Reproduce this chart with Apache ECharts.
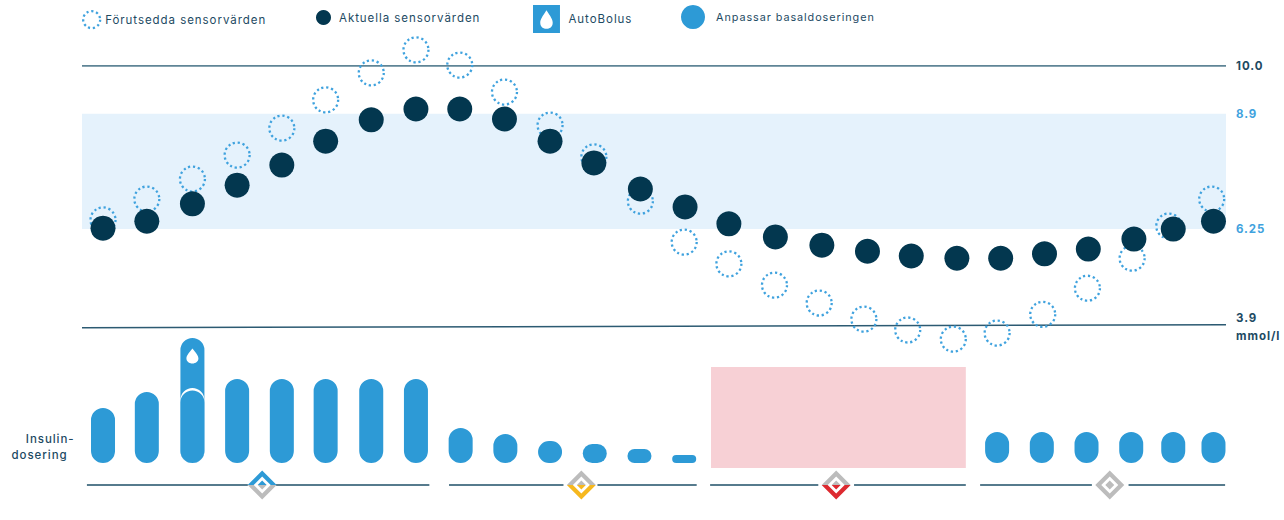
<!DOCTYPE html>
<html><head><meta charset="utf-8">
<style>html,body{margin:0;padding:0;background:#fff}#c{width:1284px;height:520px}#c text{letter-spacing:.95px}</style>
<script src="https://cdn.jsdelivr.net/npm/echarts@6/dist/echarts.min.js"></script>
</head><body><div id="c"></div>
<script>
// sensor readings: time in minutes, glucose in mmol/l
const predictedMinutes=[0,4.9,10,15,20,24.9,30,35,39.9,44.9,50,54.9,60.1,65,70,75.1,80.1,85.1,90,95.1,100,105.1,110.1,115.1,119.2,124];
const predictedValues=[6.46,6.94,7.40,7.95,8.57,9.22,9.84,10.37,10.02,9.40,8.64,7.91,6.89,5.95,5.45,4.96,4.55,4.18,3.93,3.72,3.86,4.29,4.89,5.58,6.32,6.94];
const actualMinutes=[0,4.9,10,15,20,24.9,30,35,39.9,44.9,50,54.9,60.1,65.1,70,75.2,80.4,85.5,90.4,95.5,100.4,105.3,110.2,115.3,119.7,124.2];
const actualValues=[6.27,6.43,6.83,7.26,7.72,8.27,8.76,9.01,9.01,8.78,8.27,7.77,7.17,6.76,6.37,6.07,5.88,5.74,5.63,5.58,5.58,5.68,5.79,6.02,6.25,6.43];
// insulin dosing
const doseMinutes=[0,4.9,10,15,20,24.9,30,35,40,45,50,55,60,65,100,105,110,115,119.7,124.2];
const doseValues=[4.4,5.68,5.8,6.72,6.72,6.72,6.72,6.72,2.8,2.32,1.76,1.52,1.12,0.64,2.48,2.48,2.48,2.48,2.48,2.48];
const bolusMinute=[10];
const bolusTop=[10];
const bolusCap=[6];
const pauseRange=[68,96.5];
const pauseDoseTop=[7.68];
// thresholds
const tickValues=[10,8.9,6.25,4.0];
const tickLabels=['10.0','8.9','6.25','3.9\nmmol/l'];
const highLine=[[-2.35,10],[125.6,10]];
const lowLine=[[-2.35,3.98],[125.6,4.05]];
const targetBand=[6.25,8.9];
// phases
const phaseNames=['Ökar','Minskar','Pausar','Bibehåller'];
const phaseCenters=[17.8,53.5,82,112.6];
const phaseLabelCenters=[17.7,53.5,81.3,112.7];
const phaseSpans=[[-1.8,16.2,19.3,36.5],[38.7,51.5,55.3,66.4],[67.9,80,84,96.5],[98.1,110.6,114.7,125.5]];

const SIZE=11.5, DARK='#1d4a63', BLUE='#2d9ad6', NAVY='#03374f', GREY='#bcbcbc', DOTBLUE='#3fa2de';
const upperColors={'Ökar':BLUE,'Minskar':GREY,'Pausar':GREY,'Bibehåller':GREY};
const lowerColors={'Ökar':GREY,'Minskar':'#f6b81f','Pausar':'#dd2a30','Bibehåller':GREY};
const upperPath='path://M-14.5 0L0 -14.5L14.5 0L8.5 0L0 -8.5L-8.5 0ZM-4.5 0L0 -4.5L4.5 0Z';
const lowerPath='path://M-14.5 0L0 14.5L14.5 0L8.5 0L0 8.5L-8.5 0ZM-4.5 0L0 4.5L4.5 0Z';
const dropPath='path://M13 0C9 6 6 10 6 14C6 18 9 21 13 21C17 21 20 18 20 14C20 10 17 6 13 0Z';
const squareDrop='path://M0 0H26V27H0ZM13 5C9 11 7 14 7 17C7 21 10 23 13 23C16 23 19 21 19 17C19 14 17 11 13 5Z';
const F='Inter';
const zip=(a,b)=>a.map((v,i)=>[v,b[i]]);
const legendBase={orient:'horizontal',selectedMode:false,itemGap:6,padding:0,textStyle:{color:DARK,fontSize:SIZE,fontFamily:F,padding:[0,0,0,2]}};
const segments=[];
phaseSpans.forEach(s=>{segments.push([s[0],0],[s[1],0],[s[1],null],[s[2],null],[s[2],0],[s[3],0],[s[3],null]);});
const DOT=[2.2,2.7];

const option={
 animation:false,
 backgroundColor:'#fff',
 textStyle:{fontFamily:F},
 legend:[
  Object.assign({},legendBase,{data:['Förutsedda sensorvärden'],left:82,top:10,itemWidth:17,itemHeight:19,icon:'circle',
    textStyle:Object.assign({},legendBase.textStyle,{padding:[0,0,0,0]}),
    itemStyle:{color:'rgba(0,0,0,0)',borderColor:DOTBLUE,borderWidth:2.3,borderType:DOT}}),
  Object.assign({},legendBase,{data:['Aktuella sensorvärden'],left:316,top:10,itemWidth:15,itemHeight:19,icon:'circle',
    textStyle:Object.assign({},legendBase.textStyle,{padding:[0,0,0,3]}),itemStyle:{color:NAVY}}),
  Object.assign({},legendBase,{data:['AutoBolus'],left:533,top:5,itemWidth:28,itemHeight:28,icon:squareDrop,
    textStyle:Object.assign({},legendBase.textStyle,{padding:[0,0,0,3]}),itemStyle:{color:BLUE,borderWidth:0}}),
  Object.assign({},legendBase,{data:['Anpassar basaldoseringen'],left:681,top:5,itemWidth:24,itemHeight:27,icon:'circle',
    textStyle:Object.assign({},legendBase.textStyle,{fontSize:10.8,padding:[0,0,0,6]}),itemStyle:{color:BLUE,borderWidth:0}})
 ],
 grid:[
  {left:82,width:1144,top:32,height:318},
  {left:82,width:1144,top:338,height:130},
  {left:82,width:1144,top:470,height:30}
 ],
 xAxis:[0,1,2].map(i=>({type:'value',gridIndex:i,min:-2.35,max:125.6,show:false})),
 yAxis:[
  {type:'value',gridIndex:0,min:3.47,max:10.78,position:'right',splitLine:{show:false},axisLine:{show:false},axisTick:{show:false},
   axisLabel:{customValues:tickValues,margin:10,fontSize:SIZE,fontWeight:700,fontFamily:F,lineHeight:18,align:'left',padding:[3,0,0,0],
     color:v=>(Number(v)===8.9||Number(v)===6.25)?DOTBLUE:DARK,
     formatter:v=>tickLabels[tickValues.indexOf(v)]}},
  {type:'value',gridIndex:1,min:-0.4,max:10,show:false},
  {type:'value',gridIndex:2,min:-1,max:1,show:false}
 ],
 series:[
  {type:'line',name:'band',xAxisIndex:0,yAxisIndex:0,data:[],silent:true,
   markArea:{silent:true,itemStyle:{color:'#e5f2fc'},data:[[{yAxis:targetBand[0]},{yAxis:targetBand[1]}]]},z:1},
  {type:'line',name:'high',xAxisIndex:0,yAxisIndex:0,data:highLine,symbol:'none',lineStyle:{color:'#5f8596',width:1.8},silent:true,z:2},
  {type:'line',name:'low',xAxisIndex:0,yAxisIndex:0,data:lowLine,symbol:'none',lineStyle:{color:'#2c5a72',width:1.5},silent:true,z:2},
  {type:'scatter',name:'Förutsedda sensorvärden',xAxisIndex:0,yAxisIndex:0,data:zip(predictedMinutes,predictedValues),clip:false,
   symbol:'circle',symbolSize:25,
   itemStyle:{color:'rgba(0,0,0,0)',borderColor:DOTBLUE,borderWidth:2.3,borderType:DOT,opacity:1},z:3},
  {type:'scatter',name:'Aktuella sensorvärden',xAxisIndex:0,yAxisIndex:0,data:zip(actualMinutes,actualValues),clip:false,
   symbol:'circle',symbolSize:25,itemStyle:{color:NAVY,opacity:1},z:4},

  {type:'bar',name:'AutoBolus',xAxisIndex:1,yAxisIndex:1,data:zip(bolusMinute,bolusTop),barWidth:24,barGap:'-100%',
   itemStyle:{color:BLUE,borderRadius:12},z:3},
  {type:'bar',name:'cap',xAxisIndex:1,yAxisIndex:1,data:zip(bolusMinute,bolusCap),barWidth:24,barGap:'-100%',
   itemStyle:{color:'#fff',borderRadius:12},z:4},
  {type:'bar',name:'Anpassar basaldoseringen',xAxisIndex:1,yAxisIndex:1,data:zip(doseMinutes,doseValues),barWidth:24,barGap:'-100%',
   itemStyle:{color:BLUE,borderRadius:12},z:5,
   markArea:{silent:true,itemStyle:{color:'#f7d0d5'},data:[[{xAxis:pauseRange[0],yAxis:-0.4},{xAxis:pauseRange[1],yAxis:pauseDoseTop[0]}]]}},
  {type:'scatter',name:'drop',xAxisIndex:1,yAxisIndex:1,data:[[bolusMinute[0],8.56]],symbol:dropPath,symbolSize:[12,15],itemStyle:{color:'#fff',opacity:1},z:6,silent:true},

  {type:'line',name:'phaseLines',xAxisIndex:2,yAxisIndex:2,data:segments,connectNulls:false,symbol:'none',lineStyle:{color:'#1f5068',width:1.4},silent:true,z:2},
  {type:'scatter',name:'phaseUpper',xAxisIndex:2,yAxisIndex:2,clip:false,symbol:upperPath,symbolSize:[29,14.5],symbolOffset:[0,-7.25],silent:true,z:3,
   data:phaseNames.map((n,i)=>({value:[phaseCenters[i],0],itemStyle:{color:upperColors[n],opacity:1}}))},
  {type:'scatter',name:'phaseLower',xAxisIndex:2,yAxisIndex:2,clip:false,symbol:lowerPath,symbolSize:[29,14.5],symbolOffset:[0,7.25],silent:true,z:3,
   data:phaseNames.map((n,i)=>({value:[phaseCenters[i],0],itemStyle:{color:lowerColors[n],opacity:1}}))},
  {type:'scatter',name:'phaseLabels',xAxisIndex:2,yAxisIndex:2,clip:false,symbolSize:1,silent:true,z:3,itemStyle:{opacity:0},
   data:phaseNames.map((n,i)=>({value:[phaseLabelCenters[i],0],name:n})),
   label:{show:true,position:'bottom',distance:22,formatter:p=>p.name,color:DARK,fontSize:SIZE,fontFamily:F,fontWeight:500}}
 ],
 graphic:[
  {type:'text',right:1284-67,top:433,style:{text:'Insulin-',fill:DARK,fontSize:SIZE,fontFamily:F,fontWeight:500,align:'right'}},
  {type:'text',right:1284-60,top:449,style:{text:'dosering',fill:DARK,fontSize:SIZE,fontFamily:F,fontWeight:500,align:'right'}}
 ]
};
const chart=echarts.init(document.getElementById('c'),null,{renderer:'svg'});
chart.setOption(option);
</script></body></html>
